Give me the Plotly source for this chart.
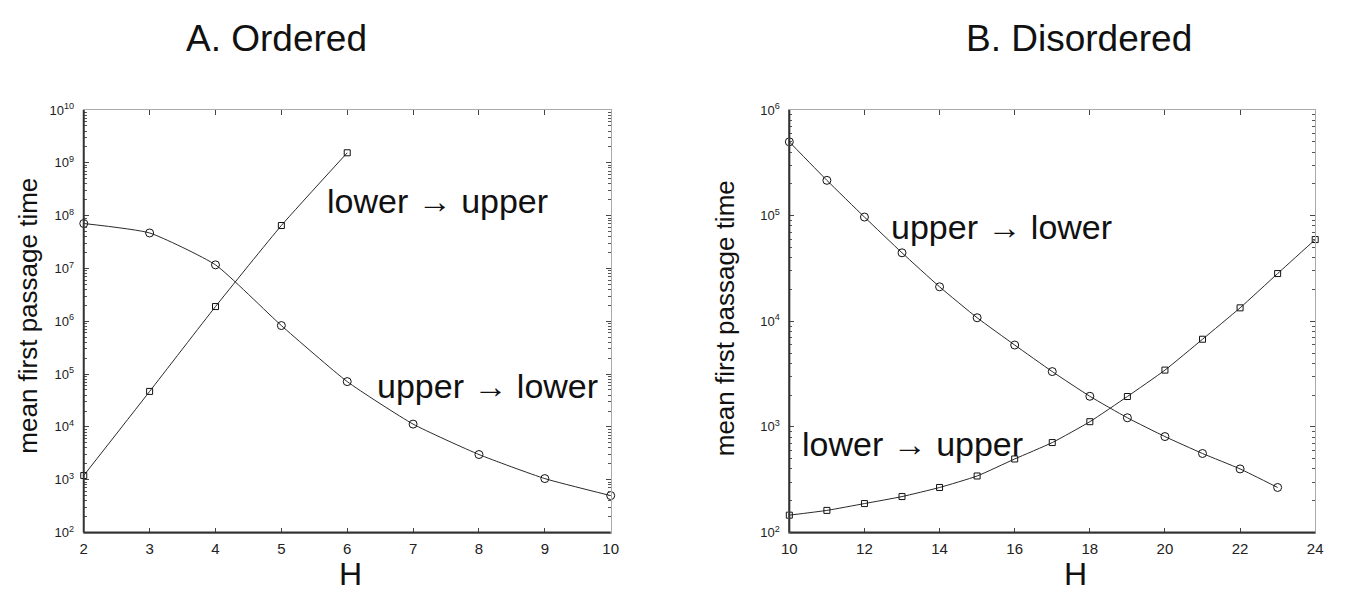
import plotly.graph_objects as go

# ---- data ----
H_ordered_up = [2, 3, 4, 5, 6, 7, 8, 9, 10]            # upper -> lower (circles)
T_ordered_up = [7.1e7, 4.7e7, 1.17e7, 8.3e5, 7.2e4, 1.13e4, 3.0e3, 1.05e3, 5.0e2]
H_ordered_low = [2, 3, 4, 5, 6]                          # lower -> upper (squares)
T_ordered_low = [1.2e3, 4.7e4, 1.9e6, 6.5e7, 1.55e9]

H_dis_up = [10, 11, 12, 13, 14, 15, 16, 17, 18, 19, 20, 21, 22, 23]
T_dis_up = [5.0e5, 2.16e5, 9.7e4, 4.45e4, 2.12e4, 1.08e4, 5.96e3, 3.34e3,
            1.95e3, 1.22e3, 8.1e2, 5.6e2, 4.0e2, 2.67e2]
H_dis_low = [10, 11, 12, 13, 14, 15, 16, 17, 18, 19, 20, 21, 22, 23, 24]
T_dis_low = [146, 162, 188, 219, 267, 343, 497, 711, 1120, 1940, 3450,
             6760, 1.34e4, 2.83e4, 5.94e4]

x_ticks_A = [2, 3, 4, 5, 6, 7, 8, 9, 10]
x_ticks_B = [10, 12, 14, 16, 18, 20, 22, 24]
y_dec_A = list(range(2, 11))
y_dec_B = list(range(2, 7))

FONT = "Liberation Sans, Arial, Helvetica, sans-serif"
LINE = "#2a2a2a"

fig = go.Figure()

def add_series(x, y, symbol, size, xa, ya):
    fig.add_trace(go.Scatter(
        x=x, y=y, mode="lines+markers", xaxis=xa, yaxis=ya,
        line=dict(color=LINE, width=1, shape="spline", smoothing=0.5),
        marker=dict(symbol=symbol, size=size, color="#111",
                    line=dict(color="#111", width=1)),
        cliponaxis=False, showlegend=False, hoverinfo="x+y"))

add_series(H_ordered_up, T_ordered_up, "circle-open", 8, "x", "y")
add_series(H_ordered_low, T_ordered_low, "square-open", 6, "x", "y")
add_series(H_dis_up, T_dis_up, "circle-open", 8, "x2", "y2")
add_series(H_dis_low, T_dis_low, "square-open", 6, "x2", "y2")

def minor_vals(decs):
    return [k * 10 ** d for d in decs[:-1] for k in range(2, 10)]

def yaxis_cfg(decs, anchor):
    return dict(
        type="log", range=[decs[0], decs[-1]], domain=[0.0911, 0.8246],
        anchor=anchor, tickmode="array",
        tickvals=[10 ** d for d in decs],
        ticktext=["10<sup>%d</sup>" % d for d in decs],
        ticks="inside", ticklen=5, tickcolor="#444", tickwidth=1,
        minor=dict(ticks="inside", ticklen=3, tickcolor="#555", tickwidth=1,
                   tickmode="array", tickvals=minor_vals(decs)),
        showline=True, linecolor="#aaaaaa", linewidth=1, mirror="ticks",
        showgrid=False, zeroline=False, ticklabelstandoff=6,
        tickfont=dict(family=FONT, size=13, color="#222"))

def xaxis_cfg(ticks, dom, anchor):
    return dict(
        range=[ticks[0], ticks[-1]], domain=dom, anchor=anchor,
        tickmode="array", tickvals=ticks, ticktext=[str(t) for t in ticks],
        ticks="inside", ticklen=5, tickcolor="#444", tickwidth=1,
        showline=True, linecolor="#aaaaaa", linewidth=1, mirror="ticks",
        showgrid=False, zeroline=False, ticklabelstandoff=2,
        tickfont=dict(family=FONT, size=15, color="#222"))

fig.update_layout(
    width=1345, height=593,
    margin=dict(l=0, r=0, t=0, b=0),
    paper_bgcolor="white", plot_bgcolor="white",
    font=dict(family=FONT, color="#111"),
    xaxis=xaxis_cfg(x_ticks_A, [0.0570, 0.4535], "y"),
    yaxis=yaxis_cfg(y_dec_A, "x"),
    xaxis2=xaxis_cfg(x_ticks_B, [0.5879, 0.9836], "y2"),
    yaxis2=yaxis_cfg(y_dec_B, "x2"),
)

# darker left / bottom spines
for xr, yr in (("x domain", "y domain"), ("x2 domain", "y2 domain")):
    fig.add_shape(type="line", xref=xr, yref=yr, x0=0, x1=1, y0=0, y1=0,
                  line=dict(color="#333", width=2), layer="above")
    fig.add_shape(type="line", xref=xr, yref=yr, x0=0, x1=0, y0=0, y1=1,
                  line=dict(color="#333", width=2), layer="above")

def px_ann(text, x, y, size, angle=0):
    fig.add_annotation(text=text, xref="paper", yref="paper",
                       x=x / 1345, y=1 - y / 593, xanchor="center",
                       yanchor="middle", showarrow=False, textangle=angle,
                       font=dict(family=FONT, size=size, color="#111"))

px_ann("A. Ordered", 272, 30, 37)
px_ann("B. Disordered", 1084, 30, 37)
px_ann("H", 347, 582, 32)
px_ann("H", 1080, 582, 32)
px_ann("mean first passage time", 20, 316, 26, -90)
px_ann("mean first passage time", 726, 318, 26, -90)
px_ann("lower \u2192 upper", 435, 198, 34)
px_ann("upper \u2192 lower", 485, 388, 34)
px_ann("upper \u2192 lower", 1005, 224, 34)
px_ann("lower \u2192 upper", 915, 448, 34)

fig.write_html("out.html")
